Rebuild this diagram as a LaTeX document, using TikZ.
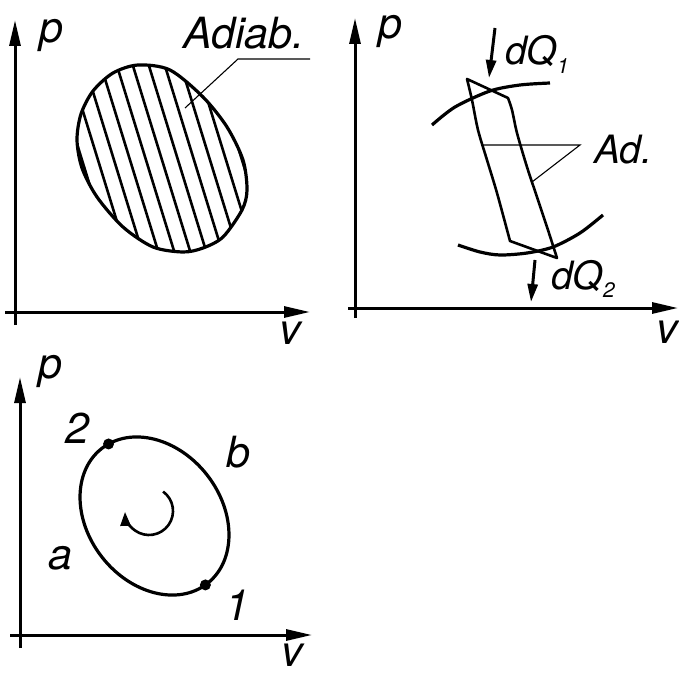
\documentclass[tikz,border=0pt]{standalone}
\usepackage{fontspec}
\setmainfont{TeX Gyre Heros}
\usetikzlibrary{arrows.meta,calc}
\begin{document}
\begin{tikzpicture}[x=1pt,y=-1pt,
 axis/.style={line width=3pt, -{Triangle[length=26pt,width=11pt]}},
 curve/.style={line width=3.2pt},
 hatchline/.style={line width=2.6pt},
 leader/.style={line width=1.1pt},
 lab/.style={font=\fontsize{43}{43}\selectfont\itshape, inner sep=0pt},
 midlab/.style={font=\fontsize{39}{39}\selectfont\itshape, inner sep=0pt},
 heat/.style={line width=3pt, -{Triangle[length=18pt,width=10pt]}},
 turn/.style={line width=2.6pt, -{Triangle[length=14pt,width=10pt]}},
 dot/.style={circle, fill, inner sep=0pt, minimum size=11pt}]
\useasboundingbox (0,0) rectangle (679,676);

% ---------- panel 1 ----------
\coordinate (o1y) at (15,325); \coordinate (t1y) at (15,20);
\coordinate (o1x) at (5,312);  \coordinate (t1x) at (310,312);
\draw[axis] (o1y) -- (t1y);
\draw[axis] (o1x) -- (t1x);
\node[lab] (p1) at (51,35) {p};
\node[lab] (v1) at (290,333) {v};
\begin{scope}
\clip plot[smooth cycle] coordinates {(138,65) (170,70) (203,97) (227,127) (243,160) (247,190) (242,210) (223,237) (203,248) (183,252) (153,247) (123,227) (97,197) (82,168) (77,140) (81,114) (93,91) (113,73)};
\foreach \i in {-7,...,7}
  \draw[hatchline] ({162+16*\i-37},40) -- ({162+16*\i+37},280);
\end{scope}
\draw[curve] plot[smooth cycle] coordinates {(138,65) (170,70) (203,97) (227,127) (243,160) (247,190) (242,210) (223,237) (203,248) (183,252) (153,247) (123,227) (97,197) (82,168) (77,140) (81,114) (93,91) (113,73)};
\node[lab] (adiab) at (244,33) {Adiab.};
\coordinate (l1a) at (310,59); \coordinate (l1b) at (238,59); \coordinate (l1c) at (185,108);
\draw[leader] (l1a) -- (l1b) -- (l1c);

% ---------- panel 2 ----------
\coordinate (o2y) at (355,318); \coordinate (t2y) at (355,18);
\coordinate (o2x) at (348,308); \coordinate (t2x) at (678,308);
\draw[axis] (o2y) -- (t2y);
\draw[axis] (o2x) -- (t2x);
\node[lab] (p2) at (390,31) {p};
\node[lab] (v2) at (667,332) {v};
\draw[curve] plot[smooth] coordinates {(432,125) (455,107) (490,91) (520,85) (550,83)};
\draw[curve] plot[smooth] coordinates {(458,245) (480,252) (500,255) (527,253) (553,247) (580,233) (603,215)};
\coordinate (bA) at (467,79); \coordinate (bB) at (508,98);
\coordinate (bC) at (557,258); \coordinate (bD) at (510,241);
\draw[line width=2.6pt, line join=round] plot[smooth] coordinates {(508,98) (512,110) (517,133) (527,167) (537,197) (547,227) (557,258)}
   -- (bD) -- plot[smooth] coordinates {(510,241) (497,193) (487,160) (478,130) (472,100) (467,79)} -- cycle;
\node[midlab, anchor=west] (ad) at (594,150) {Ad.};
\coordinate (l2a) at (580,145); \coordinate (l2b) at (481,145); \coordinate (l2c) at (532,182);
\draw[leader] (l2b) -- (l2a) -- (l2c);
\coordinate (q1s) at (495,28); \coordinate (q1e) at (489,78);
\draw[heat] (q1s) -- (q1e);
\node[midlab, anchor=base west] (dq1) at (505,65) {dQ\raisebox{-0.22em}{\fontsize{21}{21}\selectfont 1}};
\coordinate (q2s) at (535,260); \coordinate (q2e) at (531,302);
\draw[heat] (q2s) -- (q2e);
\node[midlab, anchor=base west] (dq2) at (551,289) {dQ\raisebox{-0.22em}{\fontsize{21}{21}\selectfont 2}};

% ---------- panel 3 ----------
\coordinate (o3y) at (20,648); \coordinate (t3y) at (20,377);
\coordinate (o3x) at (10,635); \coordinate (t3x) at (312,635);
\draw[axis] (o3y) -- (t3y);
\draw[axis] (o3x) -- (t3x);
\node[lab] (p3) at (50,371) {p};
\node[lab] (v3) at (292,655) {v};
\begin{scope}[shift={(154.5,516)}, x=1pt, y=1pt, rotate=-52]
  \draw[curve] (0,0) ellipse [x radius=85.7, y radius=66.7];
  \coordinate (e2) at (173:85.7 and 66.7);
  \coordinate (e1) at (-2:85.7 and 66.7);
\end{scope}
\node[dot] (pt2) at (e2) {};
\node[dot] (pt1) at (e1) {};
\coordinate (rc) at (149,511);
\draw[turn] ([shift={(54:24pt)}]rc) arc[start angle=54, end angle=-178, radius=24pt];
\node[lab] (n2) at (77,428) {2};
\node[lab] (nb) at (238,452) {b};
\node[lab] (na) at (60,558) {a};
\node[lab] (n1) at (237,605) {1};
\end{tikzpicture}
\end{document}
